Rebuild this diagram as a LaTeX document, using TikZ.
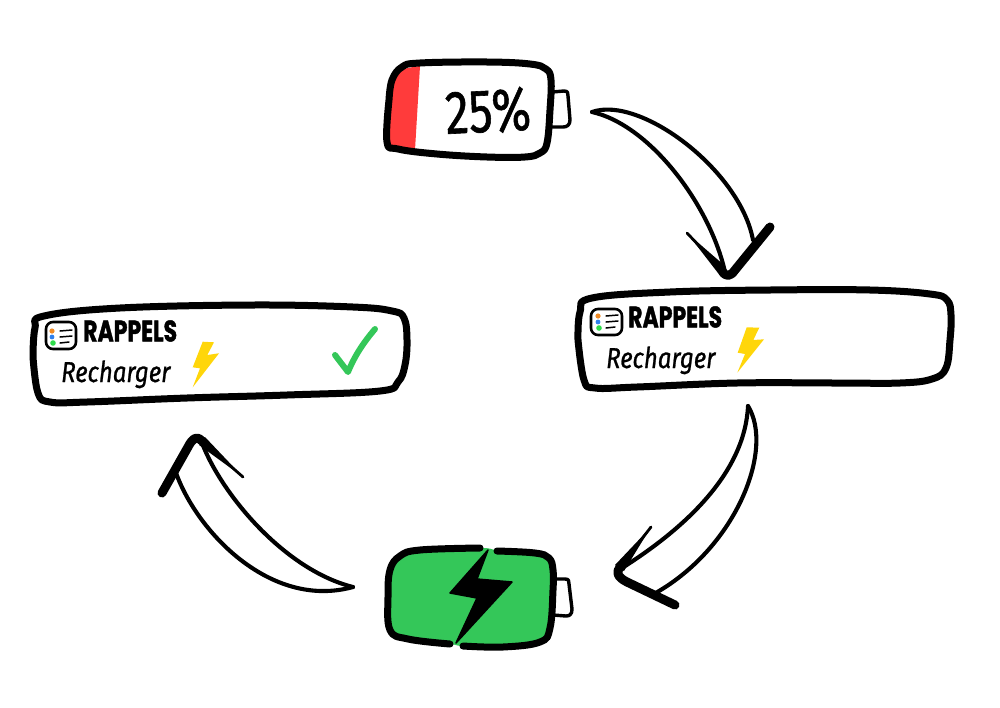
\documentclass[tikz,border=0pt]{standalone}
\usepackage{fontspec}
\setmainfont{Liberation Sans}
\newfontfamily\rapfont[FakeBold=1.6]{Poppins}
\newfontfamily\handfont[FakeBold=1.0]{Fira Sans}
\definecolor{batred}{HTML}{FF3B3B}
\definecolor{batgreen}{HTML}{34C759}
\definecolor{boltyellow}{HTML}{FFD60A}
\definecolor{dotorange}{HTML}{F08A24}
\definecolor{dotblue}{HTML}{2F80ED}
\definecolor{dotgreen}{HTML}{2EDB4B}
\tikzset{
  x=1pt,y=-1pt,
  ink/.style={draw=black,line cap=round,line join=round},
  outline/.style={ink,line width=7pt},
  batcap/.style={ink,line width=3.4pt},
  curve/.style={ink,line width=4.1pt},
  barb/.style={ink,line width=2.8pt},
  thick head/.style={ink,line width=9pt},
  rappels/.style={font=\rapfont\bfseries\fontsize{22}{24}\selectfont,inner sep=0pt,text=black},
  rech/.style={font=\handfont\itshape\fontsize{24}{26}\selectfont,inner sep=0pt,text=black},
  sm/.style={smooth,tension=0.65},
  icon/.style={ink,line width=2.6pt,rounded corners=7pt},
  iconline/.style={ink,line width=1.5pt},
}
\begin{document}
\begin{tikzpicture}
\useasboundingbox (0,0) rectangle (1000,707);
\fill[white] (0,0) rectangle (1000,707);

% --- top battery
\fill[batred] plot[sm] coordinates {(420,66)(402,70)(393,80)} -- plot[sm] coordinates {(390,100)(387,142)} -- (395,148) -- (415,150) -- cycle;
\draw[batcap,fill=white] (552,92) -- (564,91) .. controls (568,91) and (568,93) .. (568,96) -- (570,120) .. controls (570,125) and (567,127) .. (563,127) -- (552,127);
\draw[outline] plot[sm] coordinates {(389,100)(392,80)(402,67)(420,63)(487,62)(530,64)(546,69)(551,80)(550,110)(547,143)(540,153)(525,157)(487,157)(437,154)(398,149)(387,142)(389,100)};
\node[inner sep=0pt] (pct) at (488,111) {\rotatebox{3}{\scalebox{0.95}[1.22]{\handfont\fontsize{50}{52}\selectfont 25\%}}};

% --- right card
\draw[outline,fill=white] plot[sm] coordinates {(578,340)(580,312)(592,298)(670,292)(770,290)(870,290)(930,294)(947,300)(951,315)(950,340)(946,368)(932,379)(900,383)(837,383)(737,383)(637,387)(595,388)(584,380)(578,340)};
\draw[icon] (591,309) rectangle (622,335);
\fill[dotorange] (598,316) circle (2.6);
\fill[dotblue] (598,322) circle (2.4);
\fill[dotgreen] (599,328) circle (2.8);
\draw[iconline] (606,316) -- (618,315);
\draw[iconline] (606,322) -- (618,321);
\draw[iconline] (606,328) -- (615,327);
\node[rappels,anchor=west] (rapr) at (628,317) {\scalebox{1}[1.35]{RAPPELS}};
\node[rech,anchor=base west] (recr) at (606,368) {\scalebox{1}[1.2]{Recharger}};
\fill[boltyellow,line join=round] (746.7,327.3) -- (759.3,327.7) -- (753.3,340) -- (764,339.3) -- (737.3,372.7) -- (745,354) -- (737.7,352.7) -- cycle;

% --- left card
\draw[outline,fill=white] plot[sm] coordinates {(33,357)(35,328)(44,316)(120,308)(253,305)(353,307)(392,311)(404,318)(407,340)(405,365)(398,382)(380,391)(287,395)(187,398)(87,402)(50,402)(38,393)(33,357)};
\draw[icon] (46,322) rectangle (76,349);
\fill[dotorange] (52,331) circle (2.6);
\fill[dotblue] (52,337) circle (2.4);
\fill[dotgreen] (53,343) circle (2.8);
\draw[iconline] (60,331) -- (72,330);
\draw[iconline] (60,337) -- (72,336);
\draw[iconline] (60,343) -- (69,342);
\node[rappels,anchor=west] (rapl) at (83,331) {\scalebox{1}[1.35]{RAPPELS}};
\node[rech,anchor=base west] (recl) at (61,382) {\scalebox{1}[1.2]{Recharger}};
\fill[boltyellow,line join=round] (202.7,341.7) -- (214,342.3) -- (207.3,355) -- (219,353.3) -- (192.7,387.3) -- (200,368.3) -- (192.7,367.3) -- cycle;
\draw[ink,draw=batgreen,line width=6pt] (335,355) -- (348,372) .. controls (355,355) and (364,342) .. (375,329);

% --- bottom battery
\draw[batcap,fill=white] (553,579) -- (565,579) .. controls (569,579) and (569,581) .. (569,584) -- (572,609) .. controls (572,614) and (570,616) .. (566,616) -- (553,615);
\fill[batgreen] plot[sm] coordinates {(388,597)(390,570)(400,556)(420,550)(480,548)(497,550)(535,553)(549,558)(553,570)(553,590)(550,628)(540,642)(503,647)(463,646)(450,644)(408,639)(389,630)(388,597)};
\draw[outline] plot[sm] coordinates {(450,644)(408,639)(390,630)(388,597)(390,570)(400,556)(420,550)(480,548)};
\draw[outline] plot[sm] coordinates {(497,551)(535,553)(549,558)(553,570)(553,590)(550,628)(540,642)(503,647)(463,646)};
\fill[black,draw=black,line width=1.5pt,line join=round] (488,550) -- (450,593) -- (477,598) -- (456,643) -- (512,582) -- (477,579) -- cycle;

% --- arrow top-right
\coordinate (a1s) at (592,112);
\coordinate (a1u) at (753,240);
\coordinate (a1l) at (725,272);
\draw[curve] (a1s) .. controls (640,95) and (740,170) .. (a1u);
\draw[curve] (a1s) .. controls (650,125) and (710,205) .. (a1l);
\draw[barb] (687,233) -- (722,270);
\fill (687,233) -- (718,273) -- (725,266) -- cycle;
\draw[thick head] (770,227) -- (735,270) .. controls (730,277) and (726,277) .. (722,271);

% --- arrow right-bottom
\coordinate (a2s) at (748,406);
\coordinate (a2o) at (652,595);
\coordinate (a2i) at (622,568);
\draw[curve] (a2s) .. controls (775,450) and (735,550) .. (a2o);
\draw[curve] (a2s) .. controls (745,470) and (690,525) .. (a2i);
\draw[barb] (651,527) -- (620,567);
\fill (651,527) -- (615,565) -- (624,571) -- cycle;
\draw[thick head] (675,605) -- (627,582) .. controls (617,577) and (616,572) .. (620,567);

% --- arrow bottom-left
\coordinate (a3s) at (353,587);
\coordinate (a3l) at (175,470);
\coordinate (a3u) at (202,443);
\draw[curve] (a3s) .. controls (270,610) and (195,530) .. (a3l);
\draw[curve] (a3s) .. controls (285,570) and (222,495) .. (a3u);
\draw[barb] (243,477) -- (202,441);
\fill (243,477) -- (205,437) -- (199,445) -- cycle;
\draw[thick head] (162,493) -- (188,447) .. controls (193,437) and (198,436) .. (202,441);
\end{tikzpicture}
\end{document}
